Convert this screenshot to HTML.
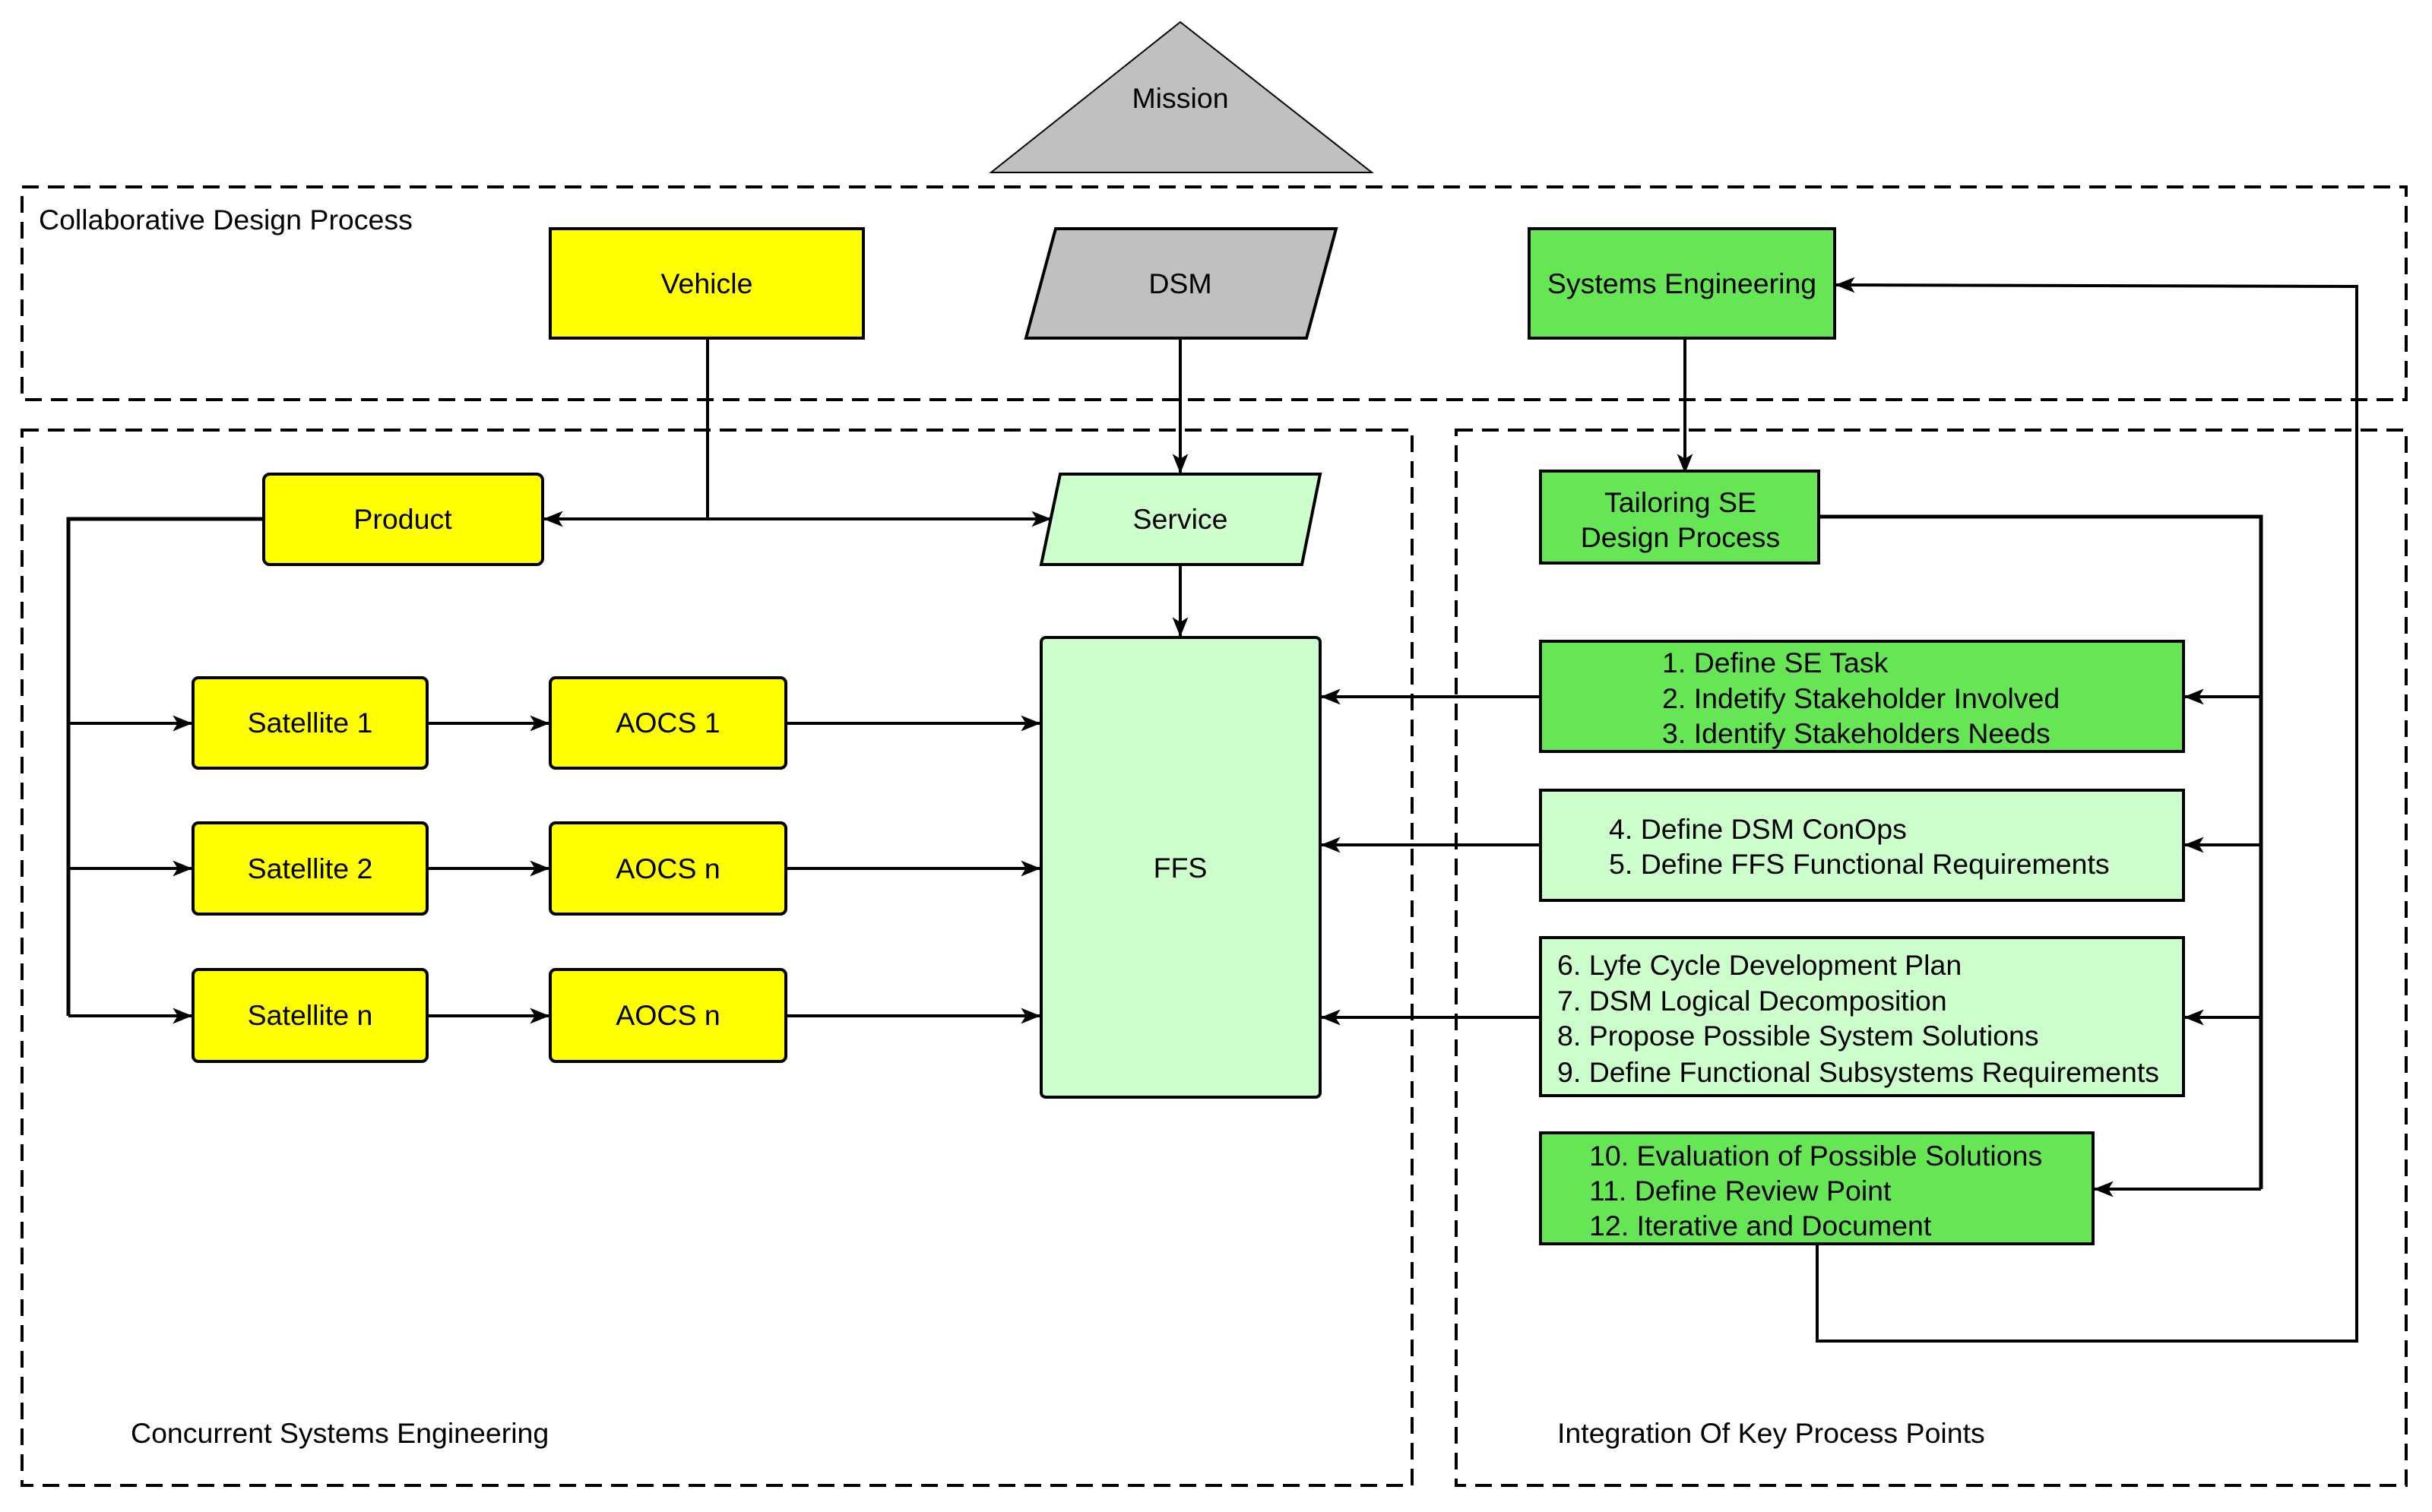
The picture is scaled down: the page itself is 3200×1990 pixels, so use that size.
<!DOCTYPE html>
<html><head><meta charset="utf-8"><style>
html,body{margin:0;padding:0;background:#fff;}
svg{display:block;font-family:"Liberation Sans",Arial,sans-serif;}
</style></head><body>
<svg width="3200" height="1990" viewBox="0 0 3200 1990" xmlns="http://www.w3.org/2000/svg">
<defs>
<marker id="a" viewBox="0 0 20 20" refX="19" refY="10" markerWidth="26" markerHeight="26" markerUnits="userSpaceOnUse" orient="auto">
<path d="M0,2 L20,10 L0,18 L5,10 Z" fill="#000"/>
</marker>
</defs>
<g fill="none" stroke="#000" stroke-width="4" stroke-dasharray="22,12">
<rect x="29" y="246" width="3137" height="280"/>
<rect x="29" y="566" width="1829" height="1389"/>
<rect x="1916" y="566" width="1250" height="1389"/>
</g>
<polygon points="1553,29 1304,227 1805,227" fill="#c0c0c0" stroke="#000" stroke-width="2"/>
<text x="1553" y="142" font-size="37.5" text-anchor="middle">Mission</text>
<text x="51" y="302" font-size="37.5">Collaborative Design Process</text>
<text x="172" y="1899" font-size="37.5">Concurrent Systems Engineering</text>
<text x="2049" y="1899" font-size="37.5">Integration Of Key Process Points</text>

<g fill="none" stroke="#000" stroke-width="4">
<path d="M931,445 V683"/>
<path d="M931,683 H716" marker-end="url(#a)"/>
<path d="M931,683 H1382" marker-end="url(#a)"/>
<path d="M1553,445 V622" marker-end="url(#a)"/>
<path d="M1553,743 V837" marker-end="url(#a)"/>
<path d="M2217,445 V622" marker-end="url(#a)"/>
<path d="M347,683 H90 V1337" stroke-width="5"/>
<path d="M90,952 H252" marker-end="url(#a)"/>
<path d="M90,1143 H252" marker-end="url(#a)"/>
<path d="M90,1337 H252" marker-end="url(#a)"/>
<path d="M562,952 H722" marker-end="url(#a)"/>
<path d="M562,1143 H722" marker-end="url(#a)"/>
<path d="M562,1337 H722" marker-end="url(#a)"/>
<path d="M1034,952 H1368" marker-end="url(#a)"/>
<path d="M1034,1143 H1368" marker-end="url(#a)"/>
<path d="M1034,1337 H1368" marker-end="url(#a)"/>
<path d="M2027,917 H1739" marker-end="url(#a)"/>
<path d="M2027,1112 H1739" marker-end="url(#a)"/>
<path d="M2027,1339 H1739" marker-end="url(#a)"/>
<path d="M2393,680 H2975 V1565" stroke-width="5"/>
<path d="M2975,917 H2875" marker-end="url(#a)"/>
<path d="M2975,1112 H2875" marker-end="url(#a)"/>
<path d="M2975,1339 H2875" marker-end="url(#a)"/>
<path d="M2975,1565 H2756" marker-end="url(#a)"/>
<path d="M2391,1637 V1765 H3101 V377 L2416,375" marker-end="url(#a)"/>
</g>

<g stroke="#000" stroke-width="4">
<rect x="724" y="301" width="412" height="144" fill="#ffff00"/>
<polygon points="1389,301 1758,301 1719,445 1350,445" fill="#c0c0c0"/>
<rect x="2012" y="301" width="402" height="144" fill="#66e655"/>
<rect x="347" y="624" width="367" height="119" rx="8" fill="#ffff00"/>
<polygon points="1395,624 1737,624 1713,743 1370,743" fill="#ccffcc"/>
<rect x="1370" y="839" width="367" height="605" rx="6" fill="#ccffcc"/>
<rect x="254" y="892" width="308" height="119" rx="7" fill="#ffff00"/>
<rect x="254" y="1083" width="308" height="120" rx="7" fill="#ffff00"/>
<rect x="254" y="1276" width="308" height="121" rx="7" fill="#ffff00"/>
<rect x="724" y="892" width="310" height="119" rx="7" fill="#ffff00"/>
<rect x="724" y="1083" width="310" height="120" rx="7" fill="#ffff00"/>
<rect x="724" y="1276" width="310" height="121" rx="7" fill="#ffff00"/>
<rect x="2027" y="620" width="366" height="121" fill="#66e655"/>
<rect x="2027" y="844" width="846" height="145" fill="#66e655"/>
<rect x="2027" y="1040" width="846" height="145" fill="#ccffcc"/>
<rect x="2027" y="1234" width="846" height="208" fill="#ccffcc"/>
<rect x="2027" y="1491" width="727" height="146" fill="#66e655"/>
</g>

<g font-size="37.5" text-anchor="middle">
<text x="930" y="386">Vehicle</text>
<text x="1553" y="386">DSM</text>
<text x="2213" y="386">Systems Engineering</text>
<text x="530" y="696">Product</text>
<text x="1553" y="696">Service</text>
<text x="1553" y="1155">FFS</text>
<text x="408" y="964">Satellite 1</text>
<text x="408" y="1156">Satellite 2</text>
<text x="408" y="1349">Satellite n</text>
<text x="879" y="964">AOCS 1</text>
<text x="879" y="1156">AOCS n</text>
<text x="879" y="1349">AOCS n</text>
<text x="2211" y="674">Tailoring SE</text>
<text x="2211" y="720">Design Process</text>
</g>
<g font-size="37.5">
<text x="2187" y="885">1. Define SE Task</text>
<text x="2187" y="932">2. Indetify Stakeholder Involved</text>
<text x="2187" y="978">3. Identify Stakeholders Needs</text>
<text x="2117" y="1104">4. Define DSM ConOps</text>
<text x="2117" y="1150">5. Define FFS Functional Requirements</text>
<text x="2049" y="1283">6. Lyfe Cycle Development Plan</text>
<text x="2049" y="1330">7. DSM Logical Decomposition</text>
<text x="2049" y="1376">8. Propose Possible System Solutions</text>
<text x="2049" y="1424">9. Define Functional Subsystems Requirements</text>
<text x="2091" y="1534">10. Evaluation of Possible Solutions</text>
<text x="2091" y="1580">11. Define Review Point</text>
<text x="2091" y="1626">12. Iterative and Document</text>
</g>
</svg>
</body></html>
